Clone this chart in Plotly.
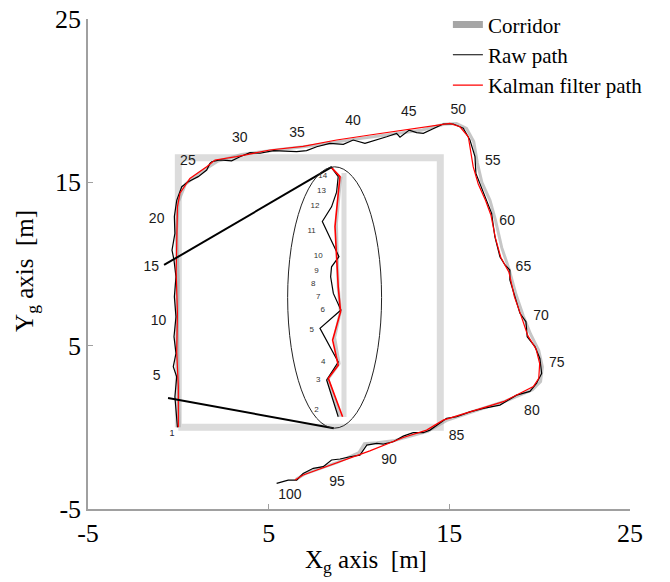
import plotly.graph_objects as go

# ---------------- data ----------------
CORRIDOR_X = [0, 0, 14.5, 14.5, 0]
CORRIDOR_Y = [0, 16.5, 16.5, 0, 0]

RAW_X = [-0.05, -0.12, -0.19, -0.09, -0.28, -0.13, -0.24, -0.13, -0.22, -0.13, -0.24, -0.35, -0.28,
         -0.19, -0.22, -0.09, 0.19, 0.55, 1.1, 1.57, 1.75, 1.85, 2.3, 2.95, 3.41, 3.97, 4.52, 5.26,
         6.55, 7.1, 7.66, 8.39, 9.13, 9.68, 10.33, 10.98, 11.53, 12.08, 12.27, 12.78, 13.19, 13.56,
         14.11, 14.66, 15.22, 15.77, 16.14, 16.42, 16.47, 16.69, 17.06, 17.34, 17.52, 17.8, 18.08,
         18.35, 18.35, 18.63, 18.91, 19.24, 19.31, 19.74, 20.01, 20.11, 19.83, 19.46, 18.72, 17.8,
         16.88, 16.14, 15.4, 14.85, 14.48, 13.93, 13.56, 13.0, 12.45, 11.9, 11.35, 10.98, 10.43,
         10.05, 9.5, 8.95, 8.48, 8.02, 7.47, 6.91, 6.55, 6.08, 5.44]
RAW_Y = [0.0, 0.9, 1.87, 3.1, 3.71, 4.53, 5.55, 6.77, 8.0, 9.22, 10.24, 10.85, 11.26,
         11.87, 12.9, 13.9, 14.73, 15.04, 15.35, 15.75, 16.16, 16.26, 16.37, 16.32, 16.57, 16.82, 16.78, 16.94,
         16.88, 16.94, 17.18, 17.39, 17.33, 17.59, 17.39, 17.59, 17.79, 18.0, 17.76, 18.2, 18.04, 18.0,
         18.31, 18.57, 18.57, 18.31, 17.59, 16.57, 15.55, 14.94, 13.92, 13.1, 11.67, 10.45, 9.94,
         9.63, 9.02, 8.0, 6.98, 6.47, 5.55, 4.94, 4.22, 3.3, 2.7, 2.2, 1.97, 1.36,
         1.16, 0.95, 0.65, 0.55, 0.24, -0.17, -0.33, -0.33, -0.54, -0.88, -1.03, -0.98, -1.09,
         -1.7, -1.8, -1.94, -2.0, -2.41, -2.51, -2.82, -3.23, -3.23, -3.43]

KF_X = [0.0, 0.0, -0.09, -0.05, -0.12, -0.1, -0.05, 0.09, 0.64, 1.57, 2.03, 3.22, 5.07, 6.91, 8.76,
        10.6, 12.45, 14.3, 15.03, 15.59, 16.05, 16.32, 16.6, 17.0, 17.3, 17.55, 17.85, 18.3, 18.6,
        18.95, 19.35, 19.8, 20.0, 19.95, 19.65, 17.99, 16.14, 14.66, 13.74, 12.45, 10.6, 8.76, 6.91, 6.46]
KF_Y = [0.0, 2.5, 4.6, 7.0, 9.5, 12.0, 13.5, 14.33, 15.24, 15.96, 16.37, 16.57, 16.98, 17.2, 17.59,
        17.9, 18.2, 18.51, 18.61, 18.4, 17.79, 15.96, 14.9, 13.9, 13.0, 11.6, 10.4, 9.5, 8.0,
        6.9, 5.6, 4.8, 3.9, 3.0, 2.49, 1.57, 0.95, 0.44, -0.17, -0.62, -1.44, -2.17, -2.92, -3.23]

GT_X = [0.05, 0.0, -0.05, 0.0, -0.1, 0.0, 0.4, 1.2, 2.2, 3.5, 5.5, 7.5, 9.5, 11.5, 13.5, 14.7, 15.4,
        15.95, 16.35, 16.55, 16.8, 17.25, 17.55, 17.9, 18.3, 18.7, 19.1, 19.5, 19.95, 20.15, 20.05,
        19.6, 18.1, 16.4, 14.9, 13.8, 12.0, 11.0, 10.3, 10.0, 8.8, 7.0, 6.5]
GT_Y = [0.0, 3.0, 6.0, 9.0, 12.0, 13.8, 14.9, 15.6, 16.3, 16.7, 17.0, 17.25, 17.6, 17.9, 18.2, 18.55, 18.6,
        18.3, 17.5, 16.2, 15.0, 13.9, 12.7, 11.0, 9.7, 8.1, 6.8, 5.7, 4.7, 3.7, 2.8,
        2.3, 1.6, 1.0, 0.45, -0.25, -0.8, -0.95, -1.0, -1.55, -2.15, -2.85, -3.2]

# magnified view inside the ellipse (points 2..14)
ZRAW_X = [8.85, 8.21, 8.85, 7.84, 9.0, 8.58, 8.43, 8.48, 8.89, 7.97, 8.48, 8.76, 8.85, 8.48]
ZRAW_Y = [0.65, 2.9, 4.0, 6.06, 7.18, 8.2, 9.22, 9.83, 10.45, 12.6, 13.5, 14.4, 15.35, 15.9]
ZKF_X = [9.09, 8.3, 8.85, 8.54, 8.98, 8.85, 8.72, 8.67, 8.85, 8.95, 8.48]
ZKF_Y = [0.65, 3.0, 3.8, 5.34, 7.08, 8.6, 11.26, 12.3, 14.3, 15.35, 15.9]
ZGT_X = [8.95, 8.28, 8.9, 8.65, 8.97, 8.85, 8.78, 8.75, 8.9, 9.0]
ZGT_Y = [0.65, 2.95, 3.9, 5.5, 7.1, 8.6, 11.2, 12.5, 14.3, 15.35]
ZCORR_X = [9.17, 9.17]
ZCORR_Y = [0.63, 15.57]
ZLABELS = ["2", "3", "4", "5", "6", "7", "8", "9", "10", "11", "12", "13", "14"]
ZLABEL_X = [7.65, 7.74, 8.02, 7.38, 7.99, 7.74, 7.47, 7.65, 7.74, 7.38, 7.56, 7.92, 7.99]
ZLABEL_Y = [1.06, 2.9, 4.0, 5.96, 7.18, 8.0, 8.75, 9.57, 10.5, 12.0, 13.55, 14.5, 15.4]

ELLIPSE_CX, ELLIPSE_CY = 8.65, 7.95
ELLIPSE_RX, ELLIPSE_RY = 2.6, 8.0

ZOOM_LINE1_X = [-0.79, 8.5]
ZOOM_LINE1_Y = [9.94, 15.94]
ZOOM_LINE2_X = [-0.57, 8.6]
ZOOM_LINE2_Y = [1.79, -0.05]

PT_LABELS = ["5", "10", "15", "20", "25", "30", "35", "40", "45", "50", "55", "60", "65", "70",
             "75", "80", "85", "90", "95", "100"]
PT_LABEL_X = [-1.2, -1.1, -1.5, -1.2, 0.53, 3.4, 6.57, 9.67, 12.76, 15.5, 17.4, 18.2, 19.1, 20.07,
              20.95, 19.57, 15.4, 11.66, 8.78, 6.18]
PT_LABEL_Y = [3.1, 6.5, 9.8, 12.75, 16.3, 17.7, 18.0, 18.7, 19.25, 19.4, 16.3, 12.6, 9.8, 6.8,
              3.93, 0.99, -0.54, -2.0, -3.35, -4.2]
START_LABEL = "1"
START_LABEL_X, START_LABEL_Y = -0.35, -0.4

X_TICKS = [-5, 5, 15, 25]
Y_TICKS = [-5, 5, 15, 25]

# ---------------- figure ----------------
SERIF = "Liberation Serif, Times New Roman, serif"
SANS = "Liberation Sans, Arial, sans-serif"
fig = go.Figure()

fig.add_trace(go.Scatter(x=CORRIDOR_X, y=CORRIDOR_Y, mode="lines",
                         line=dict(color="#dcdcdc", width=7), showlegend=False, hoverinfo="skip"))
fig.add_trace(go.Scatter(x=ZCORR_X, y=ZCORR_Y, mode="lines",
                         line=dict(color="#dcdcdc", width=5), showlegend=False, hoverinfo="skip"))
fig.add_trace(go.Scatter(x=GT_X, y=GT_Y, mode="lines",
                         line=dict(color="rgba(160,160,160,0.6)", width=3), showlegend=False,
                         hoverinfo="skip"))
fig.add_trace(go.Scatter(x=ZGT_X, y=ZGT_Y, mode="lines",
                         line=dict(color="rgba(160,160,160,0.55)", width=3), showlegend=False,
                         hoverinfo="skip"))
fig.add_trace(go.Scatter(x=[None], y=[None], mode="lines", name="Corridor",
                         line=dict(color="#a6a6a6", width=7), legendrank=1))
fig.add_trace(go.Scatter(x=RAW_X, y=RAW_Y, mode="lines", name="Raw path",
                         line=dict(color="black", width=1.2), legendrank=2))
fig.add_trace(go.Scatter(x=KF_X, y=KF_Y, mode="lines", name="Kalman filter path",
                         line=dict(color="red", width=1.2), legendrank=3))
fig.add_trace(go.Scatter(x=ZRAW_X, y=ZRAW_Y, mode="lines",
                         line=dict(color="black", width=1.2), showlegend=False))
fig.add_trace(go.Scatter(x=ZKF_X, y=ZKF_Y, mode="lines",
                         line=dict(color="red", width=1.6), showlegend=False))
fig.add_trace(go.Scatter(x=ZOOM_LINE1_X, y=ZOOM_LINE1_Y, mode="lines",
                         line=dict(color="black", width=2), showlegend=False))
fig.add_trace(go.Scatter(x=ZOOM_LINE2_X, y=ZOOM_LINE2_Y, mode="lines",
                         line=dict(color="black", width=2), showlegend=False))

fig.add_shape(type="circle", xref="x", yref="y",
              x0=ELLIPSE_CX - ELLIPSE_RX, x1=ELLIPSE_CX + ELLIPSE_RX,
              y0=ELLIPSE_CY - ELLIPSE_RY, y1=ELLIPSE_CY + ELLIPSE_RY,
              line=dict(color="#222", width=1))

fig.add_trace(go.Scatter(x=PT_LABEL_X, y=PT_LABEL_Y, mode="text", text=PT_LABELS,
                         textfont=dict(family=SANS, size=14, color="#1a1a1a"), showlegend=False))
fig.add_trace(go.Scatter(x=ZLABEL_X, y=ZLABEL_Y, mode="text", text=ZLABELS,
                         textfont=dict(family=SANS, size=8, color="#333"), showlegend=False))
fig.add_trace(go.Scatter(x=[START_LABEL_X], y=[START_LABEL_Y], mode="text", text=[START_LABEL],
                         textfont=dict(family=SANS, size=9, color="#223"), showlegend=False))

axis_common = dict(showgrid=False, zeroline=False, showline=True, linecolor="#a0a0a0", linewidth=1.5,
                   ticks="inside", ticklen=5, tickcolor="#a0a0a0",
                   tickfont=dict(family=SERIF, size=26, color="black"), mirror=False)
fig.update_xaxes(range=[-5, 25], tickvals=X_TICKS, ticktext=[str(v) for v in X_TICKS], **axis_common)
fig.update_yaxes(range=[-5, 25], tickvals=Y_TICKS, ticktext=[str(v) for v in Y_TICKS], **axis_common)

fig.add_annotation(text="X<sub>g</sub> axis  [m]", xref="paper", yref="paper", x=0.513, y=-0.108,
                   xanchor="center", yanchor="middle", showarrow=False,
                   font=dict(family=SERIF, size=25, color="black"))
fig.add_annotation(text="Y<sub>g</sub> axis  [m]", xref="paper", yref="paper", x=-0.1125, y=0.486,
                   xanchor="center", yanchor="middle", textangle=-90, showarrow=False,
                   font=dict(family=SERIF, size=25, color="black"))

fig.update_layout(
    width=670, height=582,
    margin=dict(l=88, r=40, t=19, b=73, autoexpand=False),
    paper_bgcolor="white", plot_bgcolor="white",
    showlegend=True,
    legend=dict(x=0.664, y=1.03, xanchor="left", yanchor="top", bgcolor="rgba(0,0,0,0)",
                font=dict(family=SERIF, size=21, color="black"), tracegroupgap=0),
)

fig.write_html("out.html")
